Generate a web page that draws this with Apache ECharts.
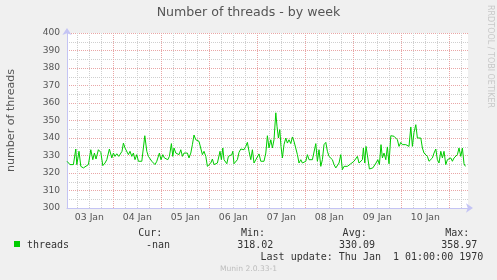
<!DOCTYPE html>
<html>
<head>
<meta charset="utf-8">
<script src="https://cdn.jsdelivr.net/npm/echarts@6/dist/echarts.min.js"></script>
<style>
html,body{margin:0;padding:0;background:#F0F0F0;}
#c{width:497px;height:280px;}
</style>
</head>
<body>
<div id="c"></div>
<script>
// Hours since 03 Jan 00:00
var hours = [
 0.8,2.3,4.0,5.2,5.7,6.8,7.7,9.0,9.8,11.5,
 12.7,13.7,14.5,15.3,16.5,17.7,18.7,19.8,20.7,22.0,
 23.2,24.0,24.8,25.7,26.7,27.3,28.3,29.0,29.8,30.7,
 31.5,32.3,33.2,34.0,34.8,35.7,36.5,37.3,38.2,39.0,
 39.7,40.7,41.5,42.3,43.2,44.0,44.8,45.7,47.0,47.8,
 48.7,49.5,50.3,51.2,52.0,53.0,53.7,54.3,55.2,56.0,
 56.8,57.7,58.5,59.3,60.2,61.0,61.8,62.7,63.5,64.3,
 65.2,66.0,66.8,67.7,68.5,69.3,70.2,71.0,71.8,72.7,
 73.5,74.3,75.2,76.0,76.8,77.3,78.0,78.7,79.3,80.0,
 80.7,81.5,82.3,83.2,83.7,84.3,85.2,86.0,86.8,87.7,
 88.5,89.3,90.2,91.0,91.8,92.7,93.5,94.3,95.2,96.0,
 96.8,97.7,98.5,99.3,100.2,101.0,101.8,102.7,103.5,104.3,
 105.2,105.8,106.5,107.2,107.8,108.5,109.3,110.2,111.0,111.8,
 112.7,113.5,114.3,115.2,116.0,116.8,117.7,118.5,119.3,120.2,
 121.0,121.8,122.7,123.5,124.3,125.2,126.0,126.8,127.7,128.5,
 129.3,130.2,131.0,131.8,132.7,133.5,134.3,135.2,136.0,136.8,
 137.7,138.5,139.3,140.2,141.0,141.8,142.7,143.5,144.3,145.2,
 146.0,146.8,147.7,148.5,149.0,149.7,150.3,151.2,152.0,152.8,
 153.7,154.5,155.3,156.2,157.0,157.8,158.5,159.3,160.2,161.0,
 161.8,162.7,163.5,164.3,165.2,166.0,166.8,167.7,168.5,169.3,
 170.2,171.0,171.8,172.7,173.5,174.3,175.2,176.0,176.8,177.7,
 178.5,179.3,180.2,181.0,181.8,182.7,183.5,184.3,185.2,186.0,
 186.8,187.7,188.5,189.3,190.2,191.0,191.8,192.7,193.5,194.3,
 195.2,196.0,196.8,197.7,198.5,199.3,200.0
];
var threads = [
 326.7,324.8,324.8,333.7,324.8,332.4,323.8,322.9,323.2,324.8,
 333.3,327.6,331.4,328.0,333.3,331.8,324.2,325.7,327.6,333.7,
 328.6,331.4,329.5,331.0,329.5,330.5,332.4,337.1,334.3,335.2,
 330.5,332.4,329.5,331.4,327.6,330.5,326.7,327.6,326.7,327.6,
 341.3,332.4,329.5,328.6,326.7,327.6,324.8,326.7,331.4,327.6,
 330.5,328.6,329.5,327.6,329.5,336.8,329.5,334.3,331.4,332.4,
 330.5,333.3,329.5,331.4,330.5,331.4,328.6,331.4,336.2,341.7,
 339.0,340.0,338.1,337.1,330.5,332.4,329.5,323.8,323.8,325.7,
 328.0,324.8,325.3,325.7,325.3,332.4,327.6,334.3,327.6,328.6,
 325.3,329.5,328.6,330.5,332.4,325.3,325.3,327.6,331.8,333.7,
 334.3,333.3,335.2,337.5,332.4,327.6,333.3,325.7,327.6,326.7,
 330.9,326.7,327.6,326.7,331.4,341.3,334.3,339.0,334.3,339.0,
 354.4,346.7,340.0,344.8,335.2,328.6,336.2,340.0,337.1,339.0,
 336.8,340.6,338.1,339.0,330.5,325.7,327.6,325.7,326.7,326.7,
 330.5,327.6,328.6,327.6,327.6,336.8,326.7,333.3,323.8,327.6,
 336.2,337.5,332.4,329.5,329.5,327.6,324.8,322.9,323.8,325.7,
 330.5,321.9,323.8,324.8,323.8,324.8,325.3,325.7,326.7,325.7,
 329.5,325.7,325.7,327.6,334.3,325.7,335.2,328.6,322.3,322.3,
 322.9,323.8,325.7,327.6,324.8,336.2,328.6,331.4,327.6,334.9,
 325.3,341.3,340.6,341.0,341.0,339.0,335.2,337.5,336.2,337.1,
 336.2,336.2,335.2,346.3,335.2,343.2,347.6,340.0,341.0,340.0,
 334.3,331.4,330.5,329.5,326.7,325.7,328.6,331.4,333.7,327.6,
 325.7,332.4,328.6,332.4,324.8,327.6,326.7,328.6,326.7,328.6,
 327.6,330.5,334.3,329.5,334.3,325.3,323.8
];
var dayLabels = ['03 Jan','04 Jan','05 Jan','06 Jan','07 Jan','08 Jan','09 Jan','10 Jan'];
var dayLabelHours = [12,36,60,84,108,132,156,180];
var midnightHours = [24,48,72,96,120,144,168,192];
var minorHours = [6,12,18,30,36,42,54,60,66,78,84,90,102,108,114,126,132,138,150,156,162,174,180,186,198];
var statNames = ['Cur:','Min:','Avg:','Max:'];
var statValues = ['-nan','318.02','330.09','358.97'];
var seriesName = 'threads';
var titleText = 'Number of threads - by week';
var yTitle = 'number of threads';
var lastUpdate = 'Last update: Thu Jan  1 01:00:00 1970';
var footer = 'Munin 2.0.33-1';
var sideText = 'RRDTOOL / TOBI OETIKER';

var data = hours.map(function(h,i){return [h, threads[i]];});
var RED = '#E9A6A6', GRAY = '#CFCFCF', AXIS = '#C4C4F4';
var sans = 'DejaVu Sans', mono = 'DejaVu Sans Mono';

var chart = echarts.init(document.getElementById('c'), null, {renderer:'canvas'});
var statX = [162.3, 265, 366.7, 469.3];
var valX = [170, 273.3, 375, 477.3];
var graphics = [
  {type:'text', x:248.5, y:13, style:{text:titleText, font:'12.6px "'+sans+'"', fill:'#555', textAlign:'center', textVerticalAlign:'middle'}},
  {type:'text', x:11, y:120.5, rotation:Math.PI/2, style:{text:yTitle, font:'11.1px "'+sans+'"', fill:'#555', textAlign:'center', textVerticalAlign:'middle'}},
  {type:'text', x:490, y:5, rotation:-Math.PI/2, style:{text:sideText, font:'8px "'+sans+'"', fill:'#C8C8C8', textAlign:'left', textVerticalAlign:'middle'}},
  {type:'rect', shape:{x:14, y:241, width:6, height:6}, style:{fill:'#00CC00'}},
  {type:'text', x:27, y:245, style:{text:seriesName, font:'10px "'+mono+'"', fill:'#333', textAlign:'left', textVerticalAlign:'middle'}},
  {type:'text', x:483.3, y:257.5, style:{text:lastUpdate, font:'10px "'+mono+'"', fill:'#333', textAlign:'right', textVerticalAlign:'middle'}},
  {type:'text', x:248.5, y:269.5, style:{text:footer, font:'7.6px "'+sans+'"', fill:'#BDBDBD', textAlign:'center', textVerticalAlign:'middle'}}
];
statNames.forEach(function(n,i){
  graphics.push({type:'text', x:statX[i], y:233.3, style:{text:n, font:'10px "'+mono+'"', fill:'#333', textAlign:'right', textVerticalAlign:'middle'}});
  graphics.push({type:'text', x:valX[i], y:245, style:{text:statValues[i], font:'10px "'+mono+'"', fill:'#333', textAlign:'right', textVerticalAlign:'middle'}});
});

chart.setOption({
  animation:false,
  backgroundColor:'#F0F0F0',
  grid:{left:67, top:33, width:401, height:175, show:true, backgroundColor:'#FFFFFF', borderWidth:0},
  xAxis:[{
    type:'value', min:0.8, max:201.3,
    axisLine:{show:true, lineStyle:{color:AXIS, width:1}, symbol:['none','arrow'], symbolSize:[7,7], symbolOffset:[0,5]},
    axisTick:{show:false, customValues:midnightHours},
    axisLabel:{show:true, customValues:dayLabelHours, margin:5, fontSize:9.3, fontFamily:sans, color:'#555',
      formatter:function(v){var i=dayLabelHours.indexOf(Math.round(v)); return i>=0?dayLabels[i]:'';}},
    splitLine:{show:true, lineStyle:{color:RED, type:'dotted', width:1}}
  },{
    type:'value', min:0.8, max:201.3, position:'bottom',
    axisLine:{show:false}, axisLabel:{show:false},
    axisTick:{show:false, customValues:minorHours},
    splitLine:{show:true, lineStyle:{color:GRAY, type:'dotted', width:1}}
  }],
  yAxis:{
    type:'value', min:300, max:400, interval:10,
    axisLine:{show:true, lineStyle:{color:AXIS, width:1}, symbol:['none','arrow'], symbolSize:[7,7], symbolOffset:[0,5]},
    axisTick:{show:false},
    axisLabel:{margin:7, fontSize:9.1, fontFamily:sans, color:'#555'},
    splitLine:{show:true, lineStyle:{color:RED, type:'dotted', width:1}},
    minorTick:{show:false, splitNumber:2},
    minorSplitLine:{show:true, lineStyle:{color:GRAY, type:'dotted', width:1}}
  },
  graphic:graphics,
  series:[{
    name:seriesName, type:'line', xAxisIndex:0, data:data, showSymbol:false, symbol:'none',
    lineStyle:{color:'#00CC00', width:1}, z:5
  }]
});
</script>
</body>
</html>
